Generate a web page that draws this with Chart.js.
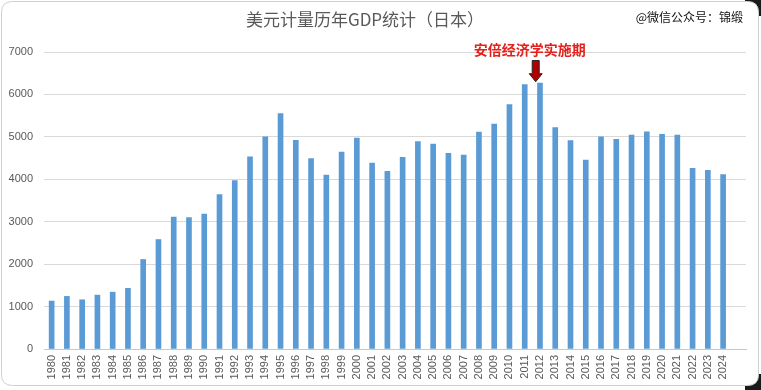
<!DOCTYPE html>
<html>
<head>
<meta charset="utf-8">
<script src="https://cdn.jsdelivr.net/npm/chart.js@4/dist/chart.umd.min.js"></script>
<style>
    body { margin: 0; background: #ffffff; }
    canvas { display: block; }
</style>
</head>
<body>
<canvas id="gdpChart" width="761" height="390"></canvas>
<script>
// Japan GDP in USD (billions)
const years = ['1980', '1981', '1982', '1983', '1984', '1985', '1986', '1987', '1988', '1989',
    '1990', '1991', '1992', '1993', '1994', '1995', '1996', '1997', '1998', '1999',
    '2000', '2001', '2002', '2003', '2004', '2005', '2006', '2007', '2008', '2009',
    '2010', '2011', '2012', '2013', '2014', '2015', '2016', '2017', '2018', '2019',
    '2020', '2021', '2022', '2023', '2024'];
const gdpValues = [1130, 1240, 1160, 1270, 1340, 1430, 2110, 2580, 3110, 3100,
    3180, 3640, 3970, 4530, 5000, 5550, 4920, 4490, 4100, 4640,
    4970, 4380, 4190, 4520, 4890, 4830, 4610, 4570, 5110, 5300,
    5760, 6230, 6270, 5220, 4910, 4450, 5000, 4940, 5040, 5120,
    5060, 5040, 4260, 4210, 4110];
const yTicks = [0, 1000, 2000, 3000, 4000, 5000, 6000, 7000];

const titleText = '美元计量历年GDP统计（日本）';
const sourceText = '@微信公众号：锦缎';
const noteText = '安倍经济学实施期';

// one empty slot after 2024, the plot leaves a gap there
const labels = years.concat(['']);
const values = gdpValues.concat([null]);

const cjk = '"Noto Sans CJK SC", "Noto Sans", sans-serif';

const roundRect = (ctx, x, y, w, h, r) => {
    ctx.beginPath();
    ctx.moveTo(x + r, y);
    ctx.lineTo(x + w - r, y);
    ctx.quadraticCurveTo(x + w, y, x + w, y + r);
    ctx.lineTo(x + w, y + h - r);
    ctx.quadraticCurveTo(x + w, y + h, x + w - r, y + h);
    ctx.lineTo(x + r, y + h);
    ctx.quadraticCurveTo(x, y + h, x, y + h - r);
    ctx.lineTo(x, y + r);
    ctx.quadraticCurveTo(x, y, x + r, y);
    ctx.closePath();
};

const decorPlugin = {
    id: 'decor',
    beforeDraw: (chart) => {
        const ctx = chart.ctx;
        ctx.save();
        ctx.fillStyle = '#ffffff';
        ctx.fillRect(0, 0, chart.width, chart.height);
        // dark corners on the right side (shadow of the frame)
        ctx.fillStyle = '#1a1a1a';
        ctx.fillRect(745, 0, 16, 16);
        ctx.fillRect(745, 374, 16, 16);
        ctx.fillStyle = '#ffffff';
        roundRect(ctx, 1.5, 1.5, 757, 384, 11);
        ctx.fill();
        ctx.strokeStyle = '#d0d0d0';
        ctx.lineWidth = 1;
        ctx.stroke();
        ctx.restore();
    },
    afterDraw: (chart) => {
        const ctx = chart.ctx;
        const xs = chart.scales.x;
        const ys = chart.scales.y;
        ctx.save();

        // title
        ctx.fillStyle = '#595959';
        ctx.font = '17px ' + cjk;
        ctx.textAlign = 'center';
        ctx.textBaseline = 'middle';
        ctx.fillText(titleText, 365, 20);

        // watermark
        ctx.fillStyle = '#111111';
        ctx.font = '12px ' + cjk;
        ctx.textAlign = 'right';
        ctx.fillText(sourceText, 743, 17);

        // arrow between 2011 and 2012
        const step = xs.getPixelForValue(32) - xs.getPixelForValue(31);
        const ax = xs.getPixelForValue(31) + 0.72 * step;
        const tipY = ys.getPixelForValue(6300);
        const topY = ys.getPixelForValue(6800);
        const headY = tipY - 8;
        ctx.beginPath();
        ctx.moveTo(ax - 3.5, topY);
        ctx.lineTo(ax + 3.5, topY);
        ctx.lineTo(ax + 3.5, headY);
        ctx.lineTo(ax + 6.5, headY);
        ctx.lineTo(ax, tipY);
        ctx.lineTo(ax - 6.5, headY);
        ctx.lineTo(ax - 3.5, headY);
        ctx.closePath();
        ctx.fillStyle = '#b00000';
        ctx.fill();
        ctx.strokeStyle = '#262626';
        ctx.lineWidth = 1;
        ctx.stroke();

        // note text
        ctx.fillStyle = '#e3201b';
        ctx.font = 'bold 14px ' + cjk;
        ctx.textAlign = 'center';
        ctx.fillText(noteText, ax - 6, topY - 11);

        ctx.restore();
    }
};

document.addEventListener('DOMContentLoaded', () => {
    const ctx = document.getElementById('gdpChart').getContext('2d');

    new Chart(ctx, {
        type: 'bar',
        data: {
            labels: labels,
            datasets: [{
                label: 'GDP',
                data: values,
                backgroundColor: '#5b9bd5',
                borderWidth: 0,
                barThickness: 5
            }]
        },
        options: {
            responsive: false,
            animation: false,
            events: [],
            layout: { padding: { top: 52, right: 15, left: 0, bottom: 0 } },
            scales: {
                y: {
                    min: 0,
                    max: 7000,
                    afterFit: (scale) => { scale.width = 44; },
                    afterBuildTicks: (scale) => {
                        scale.ticks = yTicks.map(v => ({ value: v }));
                    },
                    grid: { color: '#d9d9d9', lineWidth: 1, drawTicks: false },
                    border: { display: false },
                    ticks: {
                        padding: 11,
                        color: '#595959',
                        font: { size: 11, family: '"Liberation Sans", Arial, sans-serif' },
                        callback: (value) => String(value) // no thousands separator
                    }
                },
                x: {
                    afterFit: (scale) => { scale.height = 41; },
                    grid: { display: false, drawTicks: false },
                    border: { display: true, color: '#c8c8c8' },
                    ticks: {
                        autoSkip: false,
                        minRotation: 90,
                        maxRotation: 90,
                        padding: 6,
                        color: '#595959',
                        font: { size: 11, family: '"Liberation Sans", Arial, sans-serif' }
                    }
                }
            },
            plugins: {
                legend: { display: false },
                tooltip: { enabled: false },
                title: { display: false }
            }
        },
        plugins: [decorPlugin]
    });
});
</script>
</body>
</html>
